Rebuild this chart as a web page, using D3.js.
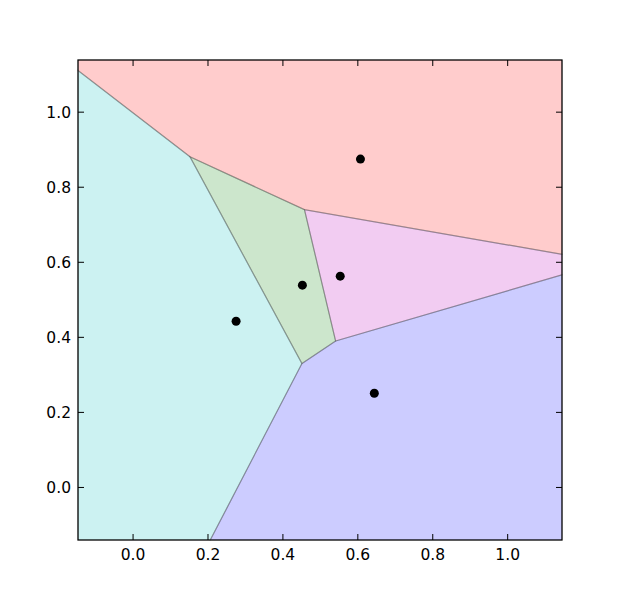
<!DOCTYPE html>
<html><head><meta charset="utf-8">
<script src="https://cdn.jsdelivr.net/npm/d3@7"></script>
<style>body{margin:0;background:#fff}svg text{font-family:"DejaVu Sans",sans-serif;font-size:15.5px;fill:#000}</style>
</head><body><svg id="c" width="623" height="600"></svg>
<script>
const pointX = [0.607, 0.553, 0.452, 0.275, 0.644];
const pointY = [0.875, 0.563, 0.539, 0.443, 0.251];
const cellColors = ["#ffcccc", "#f2ccf2", "#cce6cc", "#ccf2f2", "#ccccff"];
const xTicks = [0.0, 0.2, 0.4, 0.6, 0.8, 1.0];
const yTicks = [0.0, 0.2, 0.4, 0.6, 0.8, 1.0];
const xDomain = [-0.147, 1.145];
const yDomain = [-0.14, 1.139];

const svg = d3.select("#c");
const L = 78, R = 562, T = 60, B = 540;
const x = d3.scaleLinear().domain(xDomain).range([L, R]);
const y = d3.scaleLinear().domain(yDomain).range([B, T]);

const pts = pointX.map((v, i) => [v, pointY[i]]);
const vor = d3.Delaunay.from(pts).voronoi([xDomain[0], yDomain[0], xDomain[1], yDomain[1]]);
const line = d3.line().x(d => x(d[0])).y(d => y(d[1]));

const g = svg.append("g");
pts.forEach((p, i) => {
  const poly = vor.cellPolygon(i);
  g.append("path").attr("d", line(poly) + "Z")
    .attr("fill", cellColors[i]).attr("stroke", "none");
});
pts.forEach((p, i) => {
  const poly = vor.cellPolygon(i);
  g.append("path").attr("d", line(poly) + "Z")
    .attr("fill", "none").attr("stroke", "rgba(0,0,0,0.22)").attr("stroke-width", 1.2);
});

svg.selectAll("circle.pt").data(pts).enter().append("circle")
  .attr("cx", d => x(d[0])).attr("cy", d => y(d[1])).attr("r", 4.5).attr("fill", "#000");

// frame
svg.append("rect").attr("x", L).attr("y", T).attr("width", R - L).attr("height", B - T)
  .attr("fill", "none").attr("stroke", "#000").attr("stroke-width", 1.2);

const tl = 6;
xTicks.forEach(t => {
  const px = x(t);
  svg.append("line").attr("x1", px).attr("x2", px).attr("y1", B).attr("y2", B - tl).attr("stroke", "#000");
  svg.append("line").attr("x1", px).attr("x2", px).attr("y1", T).attr("y2", T + tl).attr("stroke", "#000");
  svg.append("text").attr("x", px).attr("y", B + 20).attr("text-anchor", "middle").text(t.toFixed(1));
});
yTicks.forEach(t => {
  const py = y(t);
  svg.append("line").attr("x1", L).attr("x2", L + tl).attr("y1", py).attr("y2", py).attr("stroke", "#000");
  svg.append("line").attr("x1", R).attr("x2", R - tl).attr("y1", py).attr("y2", py).attr("stroke", "#000");
  svg.append("text").attr("x", L - 7).attr("y", py + 5.5).attr("text-anchor", "end").text(t.toFixed(1));
});
</script></body></html>
